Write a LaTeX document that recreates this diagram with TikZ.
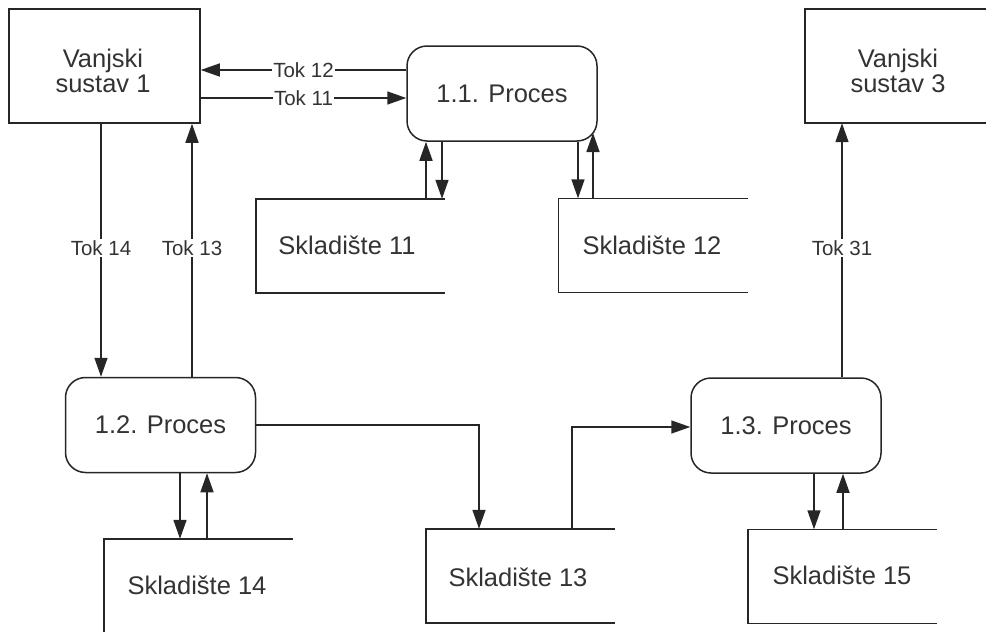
\documentclass[tikz,border=0pt]{standalone}
\usepackage{fontspec}
\setmainfont{Liberation Sans}
\usetikzlibrary{arrows.meta}
\definecolor{ln}{HTML}{262626}
\definecolor{tx}{HTML}{333333}
\begin{document}
\begin{tikzpicture}[x=1pt,y=-1pt,
  every node/.style={text=tx},
  ext/.style={draw=ln,line width=1.5pt,minimum width=191pt,minimum height=114pt,inner sep=0pt},
  big/.style={font=\fontsize{25.5}{24.5}\selectfont,align=center},
  proc/.style={draw=ln,line width=1.5pt,rounded corners=20pt,minimum width=190pt,minimum height=95pt,
    inner sep=0pt,font=\fontsize{25.5}{25.5}\selectfont},
  store/.style={minimum width=189pt,minimum height=94pt,inner sep=0pt},
  stxt/.style={font=\fontsize{25.5}{25.5}\selectfont,inner sep=0pt},
  lbl/.style={fill=white,font=\fontsize{20.5}{20.5}\selectfont,inner sep=1pt},
  arr/.style={draw=ln,line width=1.5pt,-{Triangle[length=19pt,width=13pt]}},
  ln/.style={draw=ln,line width=1.5pt}]
\useasboundingbox (0,0) rectangle (986,632);
% external systems
\node[ext] (vs1) at (104.5,66) {};
\node[big] (vs1t) at (103,71) {Vanjski\\sustav 1};
\node[store,minimum width=186pt,minimum height=114pt] (vs3) at (898,66) {};
\draw[ln] (vs3.north east) -- (vs3.north west) -- (vs3.south west) -- (vs3.south east);
\node[big] (vs3t) at (898,71) {Vanjski\\sustav 3};
% processes
\node[proc] (p11) at (502,93.5) {1.1. Proces};
\node[proc] (p12) at (160.5,425) {1.2. Proces};
\node[proc] (p13) at (786,425.5) {1.3. Proces};
% stores
\node[store] (s11) at (350.5,246) {};
\node[store] (s12) at (653,245.5) {};
\node[store] (s13) at (520.5,576) {};
\node[store,minimum height=110pt] (s14) at (198.5,594) {};
\node[store] (s15) at (842.5,576.5) {};
\foreach \s in {s11,s12,s13,s15}{
  \draw[ln] (\s.north east) -- (\s.north west) -- (\s.south west) -- (\s.south east);}
\draw[ln] (s14.north east) -- (s14.north west) -- (s14.south west);
\node[stxt] (s11t) at (347,245) {Skladište 11};
\node[stxt] (s12t) at (652,245) {Skladište 12};
\node[stxt] (s13t) at (518,577) {Skladište 13};
\node[stxt] (s14t) at (197,585) {Skladište 14};
\node[stxt] (s15t) at (842,575) {Skladište 15};
% flows vs1 <-> p11
\draw[arr] (p11.west |- 0,70) -- node[lbl]{Tok 12} (vs1.east |- 0,70);
\draw[arr] (vs1.east |- 0,98) -- node[lbl]{Tok 11} (p11.west |- 0,98);
% vs1 <-> p12
\draw[arr] (vs1.south -| 101,0) -- (p12.north -| 101,0);
\node[lbl] (t14) at (101,248) {Tok 14};
\draw[arr] (p12.north -| 192,0) -- (vs1.south -| 192,0);
\node[lbl] (t13) at (192,248) {Tok 13};
% p11 <-> s11
\draw[arr] (s11.north -| 426,0) -- (p11.south -| 426,0);
\draw[arr] (p11.south -| 442,0) -- (s11.north -| 442,0);
% p11 <-> s12
\coordinate (c12) at (593,133);
\draw[arr] (p11.south -| 578,0) -- (s12.north -| 578,0);
\draw[arr] (s12.north -| c12) -- (c12);
% p12 <-> s14
\draw[arr] (p12.south -| 180,0) -- (s14.north -| 180,0);
\draw[arr] (s14.north -| 207,0) -- (p12.south -| 207,0);
% p12 -> s13 -> p13
\coordinate (k1) at (479,425);
\draw[arr] (p12.east) -- (k1) -- (s13.north -| k1);
\coordinate (k2) at (572,427);
\draw[arr] (s13.north -| k2) -- (k2) -- (p13.west |- k2);
% p13 <-> s15
\draw[arr] (p13.south -| 814,0) -- (s15.north -| 814,0);
\draw[arr] (s15.north -| 843,0) -- (p13.south -| 843,0);
% p13 -> vs3
\draw[arr] (p13.north -| 842,0) -- (vs3.south -| 842,0);
\node[lbl] (t31) at (842,248) {Tok 31};
\end{tikzpicture}
\end{document}
